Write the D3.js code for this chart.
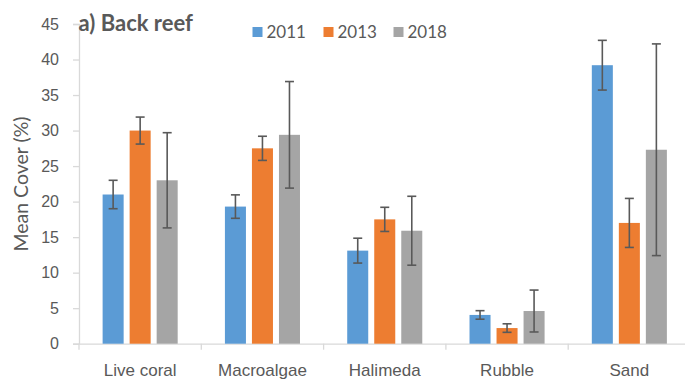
<!DOCTYPE html>
<html>
<head>
<meta charset="utf-8">
<script src="https://cdn.jsdelivr.net/npm/d3@7"></script>
<style>
  html, body { margin: 0; padding: 0; background: #fff; }
  svg { display: block; font-family: Lato, "Open Sans", sans-serif; }
</style>
</head>
<body>
<svg id="chart" width="685" height="380"></svg>
<script>
const categories = ["Live coral", "Macroalgae", "Halimeda", "Rubble", "Sand"];
const years = ["2011", "2013", "2018"];
const values2011 = [21.0, 19.3, 13.1, 4.05, 39.2];
const values2013 = [30.0, 27.5, 17.5, 2.2, 17.0];
const values2018 = [23.0, 29.4, 15.9, 4.6, 27.3];
const errors2011 = [2.0, 1.65, 1.75, 0.6, 3.5];
const errors2013 = [1.9, 1.7, 1.7, 0.6, 3.45];
const errors2018 = [6.7, 7.5, 4.85, 2.95, 14.9];
const yTicks = [0, 5, 10, 15, 20, 25, 30, 35, 40, 45];
const colors = ["#5B9BD5", "#ED7D31", "#A5A5A5"];
const title = "a) Back reef";
const yTitle = "Mean Cover (%)";

const seriesValues = [values2011, values2013, values2018];
const seriesErrors = [errors2011, errors2013, errors2018];

const svg = d3.select("#chart");
const textColor = "#595959";
const axisColor = "#D9D9D9";

const mLeft = 79, mRight = 690.5, mTop = 24, mBottom = 343.7;

const y = d3.scaleLinear().domain([0, 45]).range([mBottom, mTop]);
const x0 = d3.scaleBand().domain(categories).range([mLeft, mRight]).paddingInner(0).paddingOuter(0);
const x1 = d3.scaleBand().domain(years).range([0, x0.bandwidth()]).paddingInner(0.222).paddingOuter(0.874);

// Y axis
const yAxis = svg.append("g").attr("transform", `translate(${mLeft},0)`)
  .call(d3.axisLeft(y).tickValues(yTicks).tickSize(6).tickPadding(14));
yAxis.select(".domain").attr("stroke", axisColor).attr("stroke-width", 1.3);
yAxis.selectAll(".tick line").attr("stroke", axisColor).attr("stroke-width", 1.3);
yAxis.selectAll(".tick text").attr("fill", textColor).attr("font-size", "16px");

// X axis
const xAxis = svg.append("g").attr("transform", `translate(0,${mBottom})`)
  .call(d3.axisBottom(x0).tickSize(0).tickPadding(20));
xAxis.select(".domain").attr("stroke", axisColor).attr("stroke-width", 1.3);
xAxis.selectAll(".tick text").attr("fill", textColor).attr("font-size", "17px");
// category boundary ticks
const bounds = categories.map(c => x0(c)).concat([x0(categories[categories.length - 1]) + x0.bandwidth()]);
svg.append("g").selectAll("line").data(bounds).join("line")
  .attr("x1", d => d).attr("x2", d => d)
  .attr("y1", mBottom).attr("y2", mBottom + 6)
  .attr("stroke", axisColor).attr("stroke-width", 1.3);

// Bars
const data = [];
categories.forEach((c, i) => {
  years.forEach((yr, j) => {
    data.push({ cat: c, year: yr, v: seriesValues[j][i], e: seriesErrors[j][i], color: colors[j] });
  });
});

svg.append("g").selectAll("rect").data(data).join("rect")
  .attr("x", d => x0(d.cat) + x1(d.year))
  .attr("y", d => y(d.v))
  .attr("width", x1.bandwidth())
  .attr("height", d => y(0) - y(d.v))
  .attr("fill", d => d.color);

// Error bars
const eg = svg.append("g").attr("stroke", "#595959").attr("stroke-width", 1.6).attr("fill", "none");
data.forEach(d => {
  const cx = x0(d.cat) + x1(d.year) + x1.bandwidth() / 2;
  const y1 = y(d.v + d.e), y2 = y(d.v - d.e);
  eg.append("line").attr("x1", cx).attr("x2", cx).attr("y1", y1).attr("y2", y2);
  eg.append("line").attr("x1", cx - 4.5).attr("x2", cx + 4.5).attr("y1", y1).attr("y2", y1);
  eg.append("line").attr("x1", cx - 4.5).attr("x2", cx + 4.5).attr("y1", y2).attr("y2", y2);
});

// Title
svg.append("text").attr("x", 78.5).attr("y", 31).attr("fill", textColor)
  .attr("font-size", "22px").attr("font-weight", "bold").text(title);

// Y title
svg.append("text").attr("transform", `translate(27.5,184) rotate(-90)`)
  .attr("text-anchor", "middle").attr("fill", textColor).attr("font-size", "19.5px").text(yTitle);

// Legend
const legendX = [252.5, 323.5, 393.5];
const lg = svg.append("g");
years.forEach((yr, j) => {
  lg.append("rect").attr("x", legendX[j]).attr("y", 27).attr("width", 10).attr("height", 10).attr("fill", colors[j]);
  lg.append("text").attr("x", legendX[j] + 14).attr("y", 37.5).attr("fill", textColor)
    .attr("font-size", "17px").text(yr);
});
</script>
</body>
</html>
